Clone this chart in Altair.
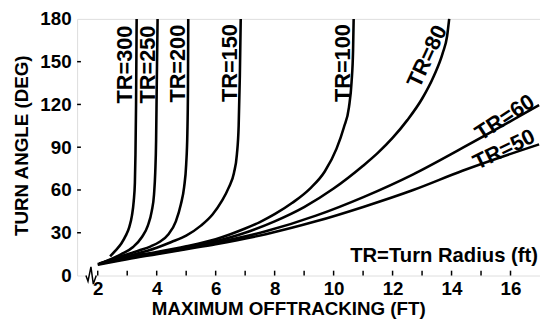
import altair as alt
import pandas as pd

# ---- data ----
tr300_x = [2.42, 2.6, 2.8, 2.95, 3.07, 3.16, 3.22, 3.26, 3.28, 3.3, 3.32]
tr300_y = [13.5, 17.5, 22.5, 28, 34, 42, 52, 65, 85, 120, 180]

tr250_x = [2.2, 2.8, 3.2, 3.5, 3.7, 3.83, 3.91, 3.95, 3.98, 4.0, 4.03]
tr250_y = [9.4, 15, 20, 27, 35, 45, 57, 72, 95, 130, 180]

tr200_x = [2.15, 2.8, 3.4, 3.8, 4.09, 4.4, 4.65, 4.82, 4.93, 5.0, 5.04, 5.06, 5.07]
tr200_y = [9, 13.5, 17.5, 20.5, 23.5, 29, 38, 50, 62, 78, 100, 130, 180]

tr150_x = [2.1, 3, 4, 4.5, 5, 5.5, 5.9, 6.2, 6.45, 6.62, 6.72, 6.78, 6.82, 6.85]
tr150_y = [8.5, 13.5, 19.5, 23.5, 28, 35, 43, 52, 62, 72, 85, 105, 140, 180]

tr100_x = [2.05, 3, 4, 5, 6, 6.5, 7, 7.5, 8, 8.6, 9.2, 9.7, 10.1, 10.35, 10.52, 10.61, 10.66, 10.68]
tr100_y = [8.5, 13, 16.5, 20.5, 25.5, 29, 33, 37.5, 43, 51, 61, 73, 89, 104, 118, 136, 158, 180]

tr80_x = [2.05, 3, 4, 5, 6, 7, 8, 9, 10, 11, 11.5, 12, 12.5, 13, 13.4, 13.7, 13.85, 13.92]
tr80_y = [8.5, 12.5, 16, 19.5, 24, 30, 38, 48, 61, 77, 86, 96.5, 109, 124, 140, 156, 168, 180]

tr60_x = [2.0, 3, 4, 5, 6, 7.7, 9.4, 11.03, 12.7, 14.37, 16.97]
tr60_y = [8, 12, 15.5, 19, 23, 31, 42, 55.2, 71, 89.5, 119.5]

tr50_x = [2.0, 3, 4, 5, 6, 7.7, 9.4, 11.03, 12.7, 14.37, 16.97]
tr50_y = [7.5, 11.5, 15, 18.5, 22, 29, 38, 48.3, 60, 73.5, 92]

label_text = ["TR=300", "TR=250", "TR=200", "TR=150", "TR=100", "TR=80", "TR=60", "TR=50"]
label_x = [2.94, 3.72, 4.72, 6.5, 10.31, 13.17, 15.81, 15.78]
label_y = [148, 148, 148.6, 149, 149, 153.7, 110.8, 88.4]
label_angle = [270, 270, 270, 270, 270, 295, 327, 334]

x_tick_values = [2, 3, 4, 5, 6, 7, 8, 9, 10, 11, 12, 13, 14, 15, 16]
x_label_values = [2, 4, 6, 8, 10, 12, 14, 16]
y_tick_values = [30, 60, 90, 120, 150]
y_label_values = [0, 30, 60, 90, 120, 150, 180]

break_x = [1.6, 1.67, 1.77, 1.85, 1.95]
break_y = [0, -4, 6, -6, 0]

note_text = ["TR=Turn Radius (ft)"]
note_x = [16.93]
note_y = [9.5]

FONT = "Liberation Sans"

curves = [
    ("300", tr300_x, tr300_y), ("250", tr250_x, tr250_y), ("200", tr200_x, tr200_y),
    ("150", tr150_x, tr150_y), ("100", tr100_x, tr100_y), ("80", tr80_x, tr80_y),
    ("60", tr60_x, tr60_y), ("50", tr50_x, tr50_y),
]
rows = []
for name, xs, ys in curves:
    for i, (a, b) in enumerate(zip(xs, ys)):
        rows.append({"tr": name, "i": i, "x": a, "y": b})
df = pd.DataFrame(rows)

xscale = alt.Scale(domain=[1.3, 17.0], nice=False, zero=False)
yscale = alt.Scale(domain=[0, 180], nice=False, zero=False)

xaxis = alt.Axis(values=x_label_values, title="MAXIMUM OFFTRACKING (FT)", grid=False, ticks=False,
                 tickSize=0, domain=False, labelPadding=4, labelFontSize=19, labelFontWeight="bold",
                 labelFont=FONT, titleFont=FONT, titleFontSize=19, titleFontWeight="bold",
                 titleX=214, titleY=33, titleBaseline="middle", titleAlign="center",
                 labelColor="black", titleColor="black")
yaxis = alt.Axis(values=y_label_values, title="TURN ANGLE (DEG)", grid=False, ticks=False,
                 tickSize=0, domain=False, labelPadding=6, labelFontSize=19, labelFontWeight="bold",
                 labelFont=FONT, titleFont=FONT, titleFontSize=19, titleFontWeight="bold",
                 titleX=-56, titleY=128, titleAngle=-90, titleBaseline="middle", titleAlign="center",
                 labelColor="black", titleColor="black")

lines = alt.Chart(df).mark_line(color="black", strokeWidth=2.6, interpolate="monotone").encode(
    x=alt.X("x:Q", scale=xscale, axis=xaxis),
    y=alt.Y("y:Q", scale=yscale, axis=yaxis),
    detail="tr:N",
    order="i:Q",
)

xt = alt.Chart(pd.DataFrame({"t": x_tick_values})).mark_rule(color="black", strokeWidth=1.5).encode(
    x=alt.X("t:Q", scale=xscale), y=alt.datum(0), y2=alt.datum(3.4))
yt = alt.Chart(pd.DataFrame({"v": y_tick_values})).mark_rule(color="black", strokeWidth=1.5).encode(
    y=alt.Y("v:Q", scale=yscale), x=alt.datum(1.3), x2=alt.datum(1.43))

cover = alt.Chart(pd.DataFrame({"a": [break_x[0]], "b": [break_x[-1]]})).mark_rule(
    color="white", strokeWidth=4).encode(x="a:Q", x2="b:Q", y=alt.datum(0))
zig = alt.Chart(pd.DataFrame({"x": break_x, "y": break_y, "i": list(range(len(break_x)))})).mark_line(
    color="black", strokeWidth=1.5, clip=False).encode(x="x:Q", y="y:Q", order="i:Q")

labels = alt.Chart(pd.DataFrame({"t": label_text, "x": label_x, "y": label_y, "a": label_angle})).mark_text(
    font=FONT, fontSize=22, fontWeight="bold", color="black", align="center", baseline="middle").encode(
    x="x:Q", y="y:Q", text="t:N", angle=alt.Angle("a:Q", scale=None))

note = alt.Chart(pd.DataFrame({"t": note_text, "x": note_x, "y": note_y})).mark_text(
    font=FONT, fontSize=20.5, fontWeight="bold", color="black", align="right", baseline="alphabetic").encode(
    x="x:Q", y="y:Q", text="t:N")

chart = alt.layer(lines, xt, yt, cover, zig, labels, note).properties(
    width=469, height=260,
    autosize=alt.AutoSizeParams(type="none"),
    padding={"left": 70, "top": 9, "right": 0, "bottom": 42},
).configure_view(stroke="black", strokeWidth=1.5).configure(background="white")

chart.save("out.html", embed_options={"renderer": "svg", "actions": False})
